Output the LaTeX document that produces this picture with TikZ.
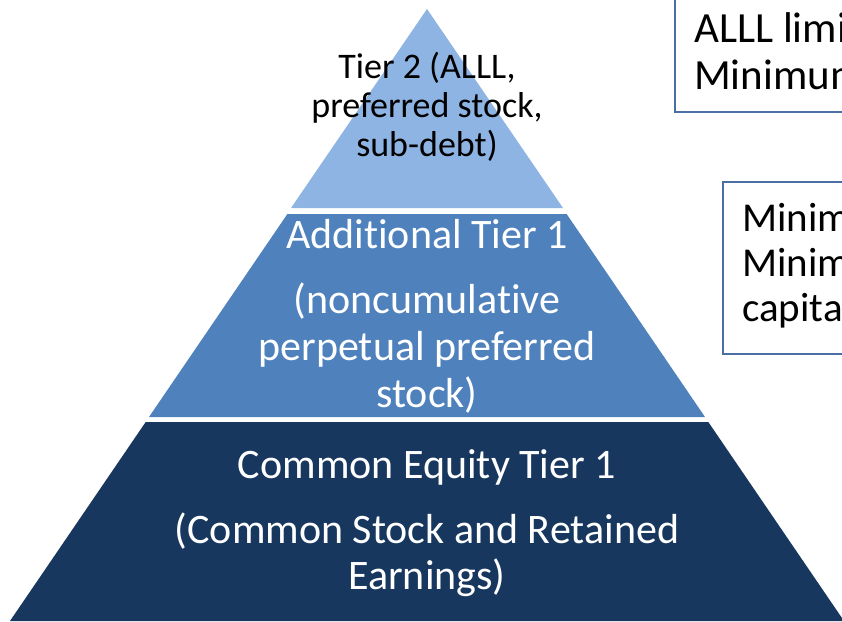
\documentclass[tikz,border=0pt]{standalone}
\usepackage{fontspec}
\setmainfont{Carlito}[Ligatures=NoCommon]
\definecolor{tiertop}{HTML}{8EB4E3}
\definecolor{tiermid}{HTML}{4F81BD}
\definecolor{tierbot}{HTML}{17375E}
\definecolor{boxline}{HTML}{4A6FA5}
\tikzset{
  bigline/.style={font=\fontsize{42}{47}\selectfont, text=white, inner sep=0pt, anchor=base},
  smallline/.style={font=\fontsize{36}{39}\selectfont, text=black, inner sep=0pt, anchor=base},
  boxlineA/.style={font=\fontsize{43}{48}\selectfont, text=black, inner sep=0pt, anchor=base west},
  boxlineB/.style={font=\fontsize{41}{46}\selectfont, text=black, inner sep=0pt, anchor=base west},
  notebox/.style={draw=boxline, line width=1.5pt, fill=white},
}
\begin{document}
\begin{tikzpicture}[x=1pt,y=-1pt]
\useasboundingbox (0,0) rectangle (842,621);
\clip (0,0) rectangle (842,621);
\fill[white] (0,0) rectangle (842,621);
% pyramid tiers
\fill[tiertop] (427,9) -- (563,208) -- (291,208) -- cycle;
\fill[tiermid] (287.4,214) -- (566.6,214) -- (705,417) -- (149,417) -- cycle;
\fill[tierbot] (145.7,422) -- (708.3,422) -- (844,621) -- (10,621) -- cycle;
% tier 2 text
\node[smallline] (t2a) at (427,78) {Tier 2 (ALLL,};
\node[smallline] (t2b) at (427,117) {preferred stock,};
\node[smallline] (t2c) at (427,156) {sub-debt)};
% additional tier 1
\node[bigline] (at1) at (427,248) {Additional Tier 1};
\node[bigline] (at1a) at (427,313) {(noncumulative};
\node[bigline] (at1b) at (427,360) {perpetual preferred};
\node[bigline] (at1c) at (427,407) {stock)};
% common equity tier 1
\node[bigline] (ce1) at (427,478) {Common Equity Tier 1};
\node[bigline] (ce1a) at (427,543) {(Common Stock and Retained};
\node[bigline] (ce1b) at (427,589) {Earnings)};
% note boxes on the right
\draw[notebox] (675,-5) rectangle (880,112);
\node[boxlineA] (n1a) at (694,42) {ALLL limit};
\node[boxlineA] (n1b) at (694,89) {Minimum};
\draw[notebox] (723,182) rectangle (880,354);
\node[boxlineB] (n2a) at (742,231) {Minimum};
\node[boxlineB] (n2b) at (742,276) {Minimum};
\node[boxlineB] (n2c) at (742,321) {capital};
\end{tikzpicture}
\end{document}
